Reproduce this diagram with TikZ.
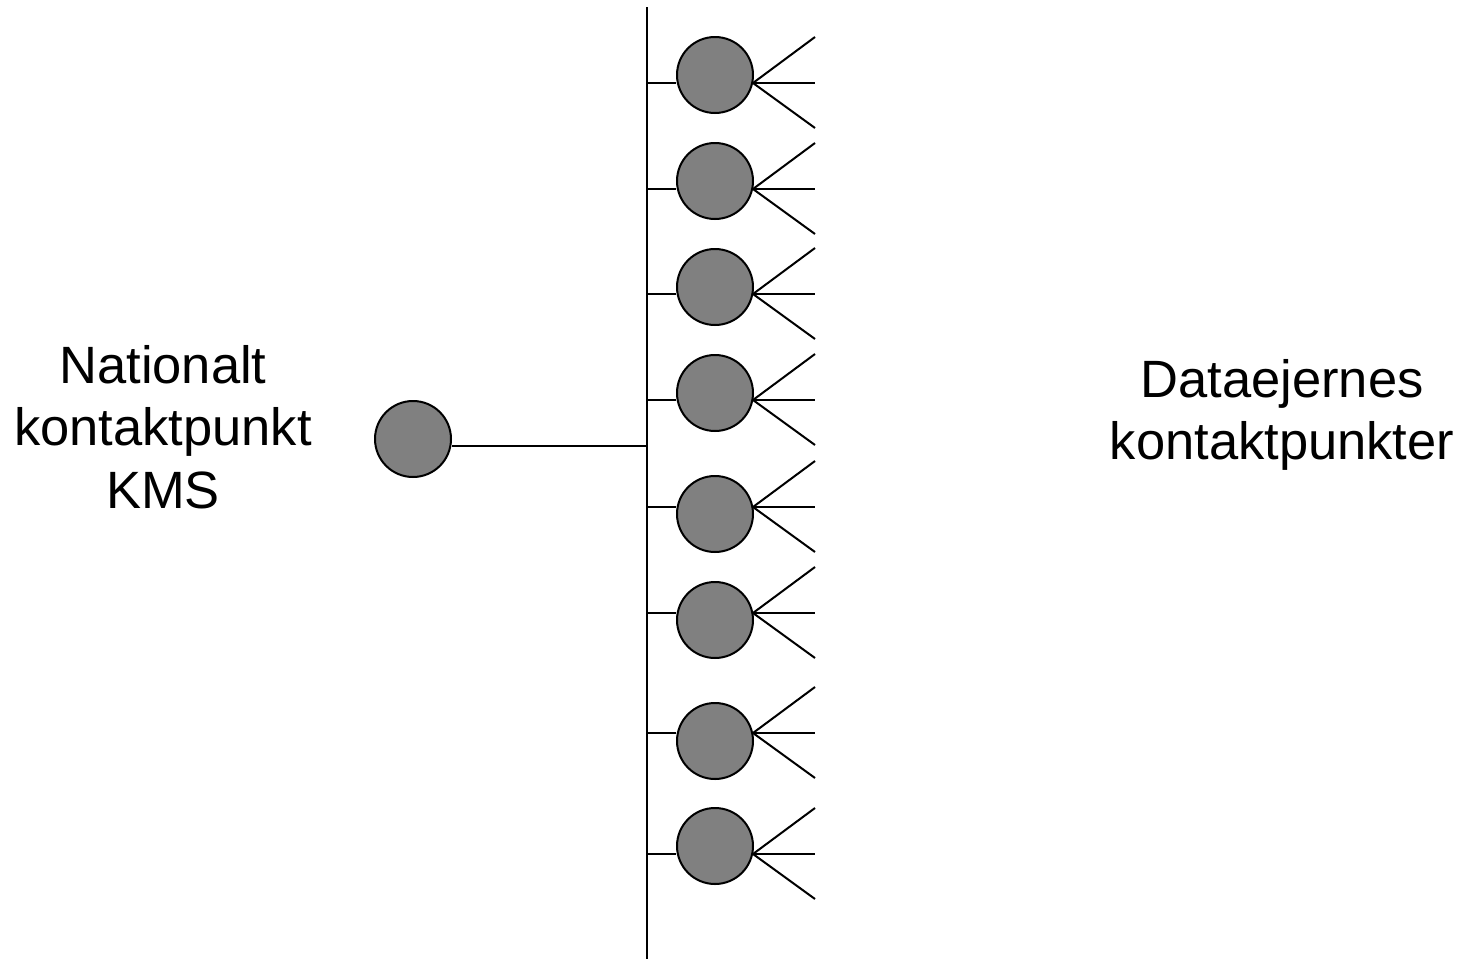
\documentclass[tikz,border=0pt]{standalone}
\usepackage{fontspec}
\setmainfont{Liberation Sans}
\begin{document}
\begin{tikzpicture}[x=1pt,y=-1pt,line width=2pt,
  dot/.style={circle,draw=black,fill=black!50,minimum size=76pt,inner sep=0pt,line width=2pt},
  lbl/.style={align=center,font=\fontsize{52.5}{62.5}\selectfont,inner sep=0pt}]
\useasboundingbox (0,0) rectangle (1465,959);
% left
\node[dot] (kms) at (413,439) {};
\coordinate (btop) at (647,7);
\coordinate (bbot) at (647,959);
\draw (btop) -- (bbot);
\coordinate (kj) at (647,446);
\draw (kms.east |- kj) -- (kj);
\node[lbl] (l1) at (163,427) {Nationalt\\kontaktpunkt\\KMS};
\node[lbl] (l2) at (1282,415) {Dataejernes\\kontaktpunkter};
% right circles: center y / stub y
\foreach \i/\cy/\sy in {1/75/83,2/181/189,3/287/294,4/393/400,5/514/507,6/620/613,7/741/733,8/846/854}{
  \node[dot] (d\i) at (715,\cy) {};
  \coordinate (s\i) at (647,\sy);
  \coordinate (p\i) at (753,\sy);
  \coordinate (a\i) at (815,\sy-46);
  \coordinate (b\i) at (815,\sy);
  \coordinate (c\i) at (815,\sy+45);
  \draw (s\i) -- (d\i.west |- s\i);
  \draw (a\i) -- (p\i) -- (c\i);
  \draw (p\i) -- (b\i);
}
\end{tikzpicture}
\end{document}
